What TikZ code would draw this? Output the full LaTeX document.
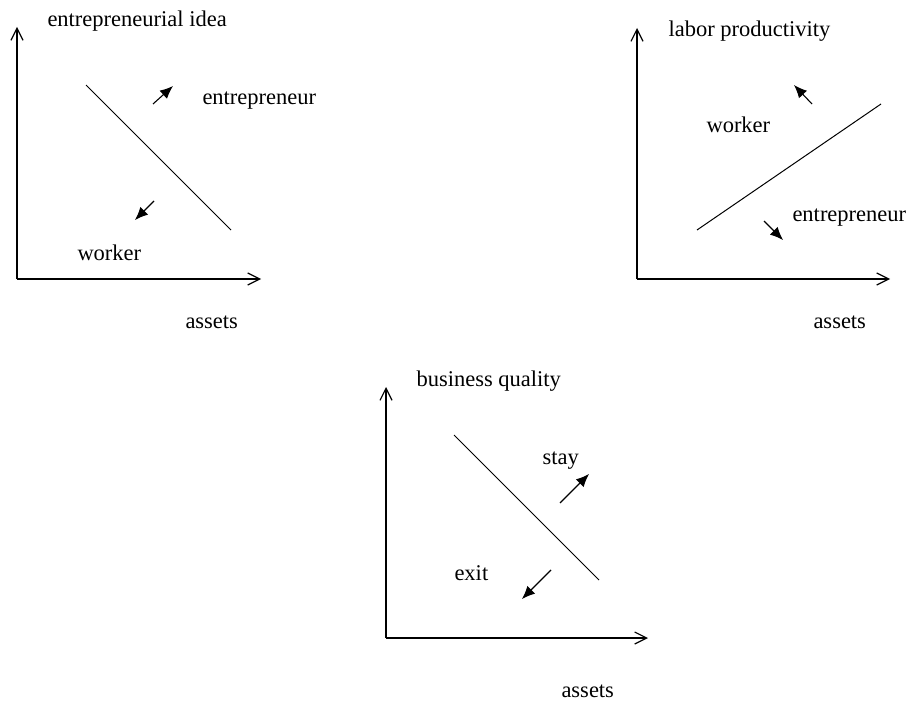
\documentclass[tikz,border=0pt]{standalone}
\usepackage{fontspec}
\setmainfont{Liberation Serif}
\usetikzlibrary{arrows.meta}

\begin{document}
\begin{tikzpicture}[x=1pt, y=-1pt, line width=1pt,
    font=\fontsize{22.5}{27}\selectfont,
    axis/.style={line width=1.2pt, -{Straight Barb[length=12pt,width=12pt]}},
    move/.style={line width=1.1pt, -{Latex[length=13pt,width=11pt]}},
    lbl/.style={anchor=base west, inner sep=0pt}]
    \useasboundingbox (0,0) rectangle (913,706);

    % --- Idea imprenditoriale vs patrimonio ---
    \coordinate (o1) at (17,279);
    \coordinate (y1) at (17,27);
    \coordinate (x1) at (261,279);
    \draw[axis] (o1) -- (y1);
    \draw[axis] (o1) -- (x1);
    \coordinate (s1) at (86,85);
    \coordinate (e1) at (231,230);
    \draw (s1) -- (e1);
    \coordinate (a1) at (153,104);
    \coordinate (b1) at (173,86);
    \draw[move] (a1) -- (b1);
    \coordinate (c1) at (154,201);
    \coordinate (d1) at (135,220);
    \draw[move] (c1) -- (d1);
    \node[lbl] (idea) at (47,27) {entrepreneurial idea};
    \node[lbl] (entr1) at (202,105) {entrepreneur};
    \node[lbl] (work1) at (77,260) {worker};
    \node[lbl] (ass1) at (185,328) {assets};

    % --- Produttivita' vs patrimonio ---
    \coordinate (o2) at (637,279);
    \coordinate (y2) at (637,28);
    \coordinate (x2) at (890,279);
    \draw[axis] (o2) -- (y2);
    \draw[axis] (o2) -- (x2);
    \coordinate (s2) at (697,230);
    \coordinate (e2) at (881,104);
    \draw (s2) -- (e2);
    \coordinate (a2) at (812,104);
    \coordinate (b2) at (794,85);
    \draw[move] (a2) -- (b2);
    \coordinate (c2) at (764,221);
    \coordinate (d2) at (783,240);
    \draw[move] (c2) -- (d2);
    \node[lbl] (prod) at (668,37) {labor productivity};
    \node[lbl] (work2) at (706,133) {worker};
    \node[lbl] (entr2) at (792,221) {entrepreneur};
    \node[lbl] (ass2) at (813,328) {assets};

    % --- Qualita' dell'impresa vs patrimonio ---
    \coordinate (o3) at (386,638);
    \coordinate (y3) at (386,387);
    \coordinate (x3) at (648,638);
    \draw[axis] (o3) -- (y3);
    \draw[axis] (o3) -- (x3);
    \coordinate (s3) at (454,435);
    \coordinate (e3) at (599,580);
    \draw (s3) -- (e3);
    \coordinate (a3) at (560,503);
    \coordinate (b3) at (589,474);
    \draw[move] (a3) -- (b3);
    \coordinate (c3) at (551,570);
    \coordinate (d3) at (522,599);
    \draw[move] (c3) -- (d3);
    \node[lbl] (qual) at (416,386) {business quality};
    \node[lbl] (stay) at (542,464) {stay};
    \node[lbl] (exit) at (454,580) {exit};
    \node[lbl] (ass3) at (561,697) {assets};

\end{tikzpicture}
\end{document}
